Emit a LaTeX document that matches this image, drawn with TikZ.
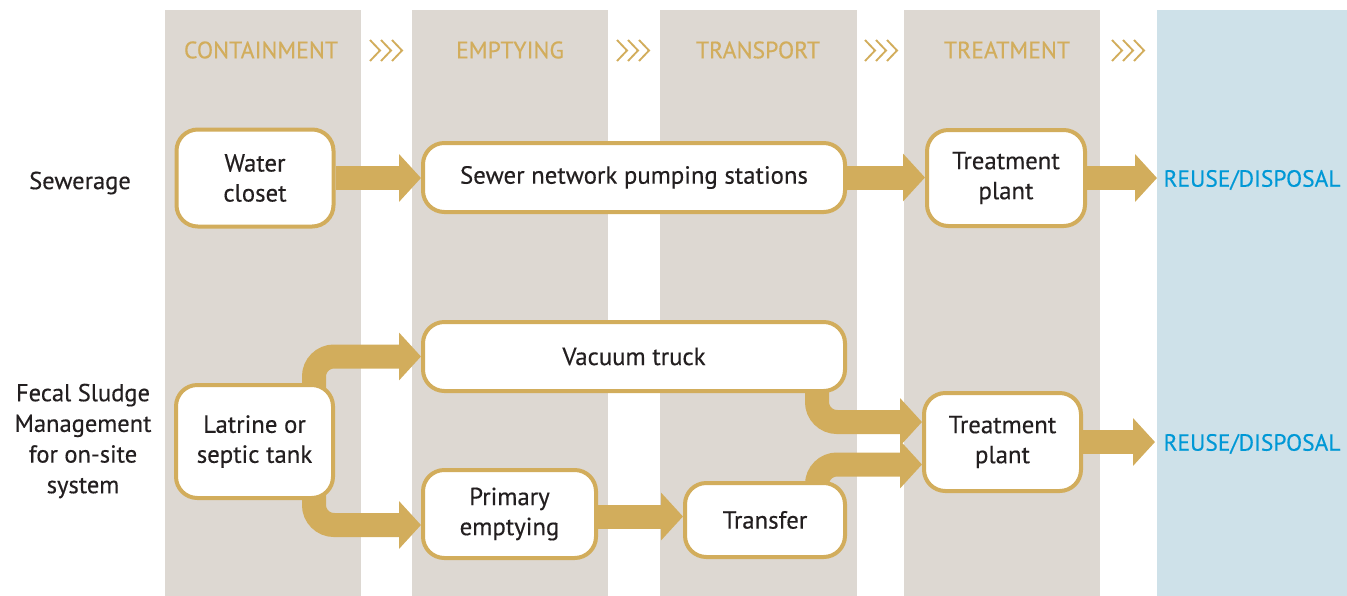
\documentclass[tikz,border=0pt]{standalone}
\usepackage{fontspec}
\setmainfont{PT Sans}[FakeBold=0.35]
\usetikzlibrary{arrows.meta,calc}
\definecolor{gold}{RGB}{210,173,92}
\definecolor{colgray}{RGB}{221,216,210}
\definecolor{colblue}{RGB}{206,225,233}
\definecolor{reuseblue}{RGB}{0,152,214}
\definecolor{txt}{RGB}{35,31,32}
\pgfdeclarelayer{back}
\pgfdeclarelayer{bg}
\pgfsetlayers{back,bg,main}
\begin{document}
\begin{tikzpicture}[x=0.75pt,y=-0.75pt,
 box/.style={draw=gold, line width=3pt, rounded corners=16pt, fill=white, align=center,
   font=\fontsize{18.6}{22.5}\selectfont, text=txt, inner sep=0pt},
 flow/.style={draw=gold, line width=18pt, rounded corners=15pt, -{Triangle[length=16.5pt,width=35pt]}},
 headtxt/.style={text=gold, font=\fontsize{17.8}{18}\selectfont},
 chev/.style={draw=gold, line width=1.4pt},
 lbl/.style={align=center, text=txt, font=\fontsize{18.4}{23}\selectfont},
 reuse/.style={text=reuseblue, font=\fontsize{17.6}{18}\selectfont}]
\useasboundingbox (0,0) rectangle (1347,596);

\begin{pgfonlayer}{back}
\fill[colgray] (165,10) rectangle (361,596);
\fill[colgray] (412,10) rectangle (608,596);
\fill[colgray] (660,10) rectangle (857,596);
\fill[colgray] (904,10) rectangle (1100,596);
\fill[colblue] (1157,10) rectangle (1347,596);
\end{pgfonlayer}

% headers
\node[headtxt] (hcon) at (261,50) {CONTAINMENT};
\node[headtxt] (hemp) at (510,50) {EMPTYING};
\node[headtxt] (htra) at (758,50) {TRANSPORT};
\node[headtxt] (htre) at (1007,50) {TREATMENT};
\foreach \cx in {386,633,881,1128}{
  \foreach \dx in {-11,0,11}{
    \draw[chev] (\cx+\dx-5,40) -- (\cx+\dx+5,50.5) -- (\cx+\dx-5,61);
  }
}

% row labels
\node[lbl] (lsew) at (80,183) {Sewerage};
\node[lbl] (lfsm) at (83,441) {Fecal Sludge\\Management\\for on-site\\system};

% nodes
\node[box, minimum width=117.75pt, minimum height=72.75pt] (wc) at (255,178) {Water\\closet};
\node[box, minimum width=316.5pt, minimum height=51.75pt] (sew) at (634,177.5) {Sewer network pumping stations};
\node[box, minimum width=118.5pt, minimum height=72pt] (t1) at (1006,178) {Treatment\\plant};
\node[box, minimum width=117.75pt, minimum height=84.75pt] (lat) at (254.5,441.5) {Latrine or\\septic tank};
\node[box, minimum width=316.5pt, minimum height=51.75pt] (vac) at (634,356.5) {Vacuum truck};
\node[box, minimum width=129.75pt, minimum height=66pt] (prim) at (509.5,514) {Primary\\emptying};
\node[box, minimum width=120pt, minimum height=55.5pt] (trans) at (765,520) {Transfer};
\node[box, minimum width=117.75pt, minimum height=73.5pt] (t2) at (1002.5,442) {Treatment\\plant};

\node[reuse] (r1) at (1252,180) {REUSE/DISPOSAL};
\node[reuse] (r2) at (1252,444) {REUSE/DISPOSAL};
\coordinate (e1) at (1157,178);
\coordinate (e2) at (1155,442);

% flows
\begin{pgfonlayer}{bg}
\draw[flow] (wc.east) -- (wc.east -| sew.west);
\draw[flow] (sew.east) -- (sew.east -| t1.west);
\draw[flow] (t1.east) -- (e1);
\draw[flow] ($(lat.center)+(59.5,0)$) |- (vac.west);
\draw[flow] ($(lat.center)+(59.5,0)$) |- ($(prim.west)+(0,11)$);
\draw[flow] ($(prim.east)+(0,2.5)$) -- ($(prim.east -| trans.west)+(0,2.5)$);
\draw[flow] ($(vac.center)+(183,0)$) |- ($(t2.west)+(0,-20)$);
\draw[flow] ($(trans.center)+(52,0)$) |- ($(t2.west)+(0,22.5)$);
\draw[flow] (t2.east) -- (e2);
\end{pgfonlayer}
\end{tikzpicture}
\end{document}
